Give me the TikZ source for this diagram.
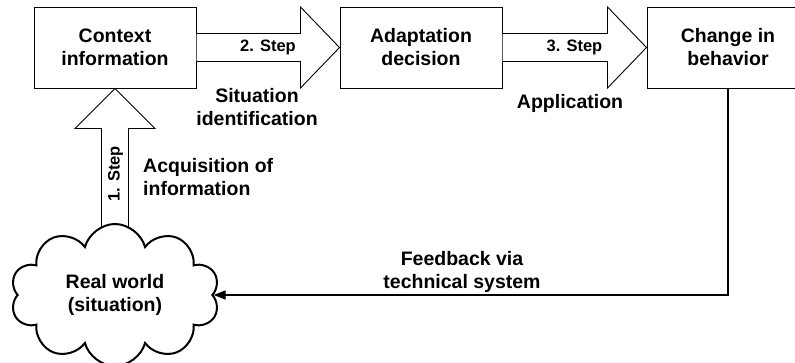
\documentclass[tikz,border=0pt]{standalone}
\usepackage{fontspec}
\setmainfont{Liberation Sans}
\usetikzlibrary{shapes.symbols,arrows.meta,calc}
\newcommand\mainfnt{\fontsize{19.5}{23}\selectfont\bfseries}
\newcommand\stepfnt{\fontsize{16.5}{20}\selectfont\bfseries}
\begin{document}
\begin{tikzpicture}[x=1pt,y=-1pt,
  box/.style={draw, line width=1pt, minimum width=162pt, minimum height=81pt, align=center, font=\mainfnt, inner sep=0pt},
  blk/.style={draw, line width=0.9pt, fill=white, line join=miter},
  steplbl/.style={font=\stepfnt, inner sep=0pt},
  lbl/.style={font=\mainfnt, inner sep=0pt},
  fb/.style={draw, line width=1.4pt, -{Triangle[length=12pt,width=9pt]}}]
\useasboundingbox (0,0) rectangle (795,362);

\node[box] (ctx) at (115,47.5) {Context\\information};
\node[box] (ada) at (421,47.5) {Adaptation\\decision};
\node[box] (chg) at (728,47.5) {Change in\\behavior};

% 2. Step block arrow
\draw[blk] ($(ctx.east)+(0,-14)$) -- ($(ada.west)+(-39,-14)$) -- ($(ada.west)+(-39,-40.5)$)
  -- (ada.west) -- ($(ada.west)+(-39,40.5)$) -- ($(ada.west)+(-39,14)$) -- ($(ctx.east)+(0,14)$);
\node[steplbl] (s2) at ($(ctx.east)!0.5!(ada.west)$) {2. Step};

% 3. Step block arrow
\draw[blk] ($(ada.east)+(0,-14)$) -- ($(chg.west)+(-39,-14)$) -- ($(chg.west)+(-39,-40.5)$)
  -- (chg.west) -- ($(chg.west)+(-39,40.5)$) -- ($(chg.west)+(-39,14)$) -- ($(ada.east)+(0,14)$);
\node[steplbl] (s3) at ($(ada.east)!0.5!(chg.west)$) {3. Step};

% 1. Step block arrow
\draw[blk] ($(ctx.south)+(-13.5,150)$) -- ($(ctx.south)+(-13.5,40)$) -- ($(ctx.south)+(-40,40)$)
  -- (ctx.south) -- ($(ctx.south)+(40,40)$) -- ($(ctx.south)+(13.5,40)$) -- ($(ctx.south)+(13.5,150)$);
\node[steplbl, rotate=90] (s1) at (115.5,174) {1. Step};

% cloud
\node[cloud, cloud puffs=10, cloud ignores aspect, minimum width=209pt, minimum height=142pt,
  draw, line width=2pt, fill=white, align=center, font=\mainfnt, inner sep=0pt] (rw) at (115,295) {Real world\\(situation)};

% labels
\node[lbl, align=center] (sit) at (257,107) {Situation\\identification};
\node[lbl] (app) at (570,103) {Application};
\node[lbl, align=left, anchor=west] (acq) at (143,177.5) {Acquisition of\\information};
\node[lbl, align=center] (fbl) at (462,271.5) {Feedback via\\technical system};

% feedback connector
\draw[fb] (chg.south) |- (rw.east);
\end{tikzpicture}
\end{document}
